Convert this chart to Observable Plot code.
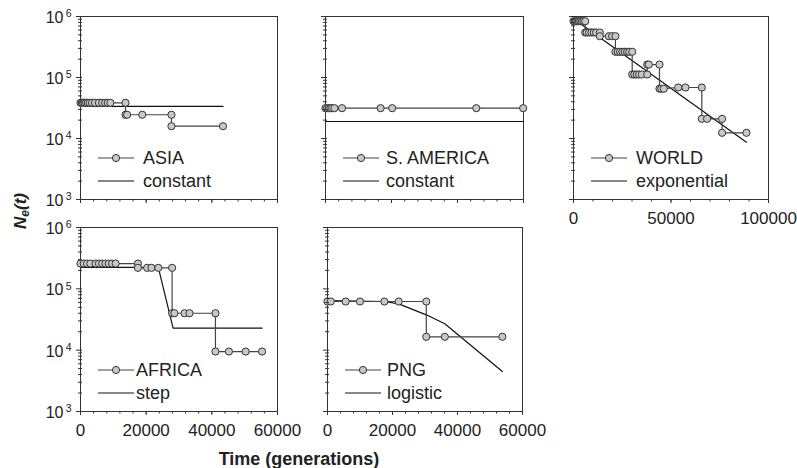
<!DOCTYPE html>
<html>
<head>
<meta charset="utf-8">
<script src="https://cdn.jsdelivr.net/npm/d3@7"></script>
<script src="https://cdn.jsdelivr.net/npm/@observablehq/plot@0.6"></script>
<style>
  html, body { margin: 0; padding: 0; background: #fff; overflow: hidden; }
  #chart { position: relative; width: 797px; height: 468px; background: #fff;
           font-family: "Liberation Sans", Arial, Helvetica, sans-serif; color: #222; }
  #chart svg { position: absolute; overflow: visible; }
  .ytitle { position: absolute; width: 80px; height: 22px; line-height: 22px; text-align: center;
            font-size: 17px; font-weight: bold; font-style: italic; transform: rotate(-90deg); }
  .ytitle sub { font-size: 12px; vertical-align: -3px; }
  .xtitle { position: absolute; width: 240px; text-align: center; font-size: 18px;
            font-weight: bold; line-height: 20px; }
</style>
</head>
<body>
<div id="chart"></div>
<script>
// ---------------- data ----------------
const asiaTime = [0, 400, 800, 1200, 1700, 2200, 2800, 3500, 4400, 5600, 6600, 7500, 8300, 9100, 13700,
                  13700, 14200, 18800, 27700, 27700, 43400];
const asiaNe = [38500, 38500, 38500, 38500, 38500, 38500, 38500, 38500, 38500, 38500, 38500, 38500, 38500, 38500, 38500,
                24500, 24500, 24500, 24500, 15900, 15900];
const asiaModelTime = [0, 43400];
const asiaModelNe = [33500, 33500];

const samTime = [0, 500, 1000, 1500, 2000, 2700, 5000, 16700, 20200, 45700, 59900];
const samNe = [31400, 31400, 31400, 31400, 31400, 31400, 31400, 31400, 31400, 31400, 31400];
const samModelTime = [0, 60000];
const samModelNe = [19000, 19000];

const worldTime = [0, 700, 1400, 2100, 2800, 3500, 4300, 5100, 6000,
                   6000, 6800, 8000, 9200, 10400, 11600, 13500,
                   13500, 18100, 19800, 21500,
                   21500, 22700, 23900, 25100, 26300, 27500, 28600, 30100,
                   30100, 31200, 32400, 33600, 35000, 37800,
                   37800, 38600, 44100,
                   44100, 45000, 46300,
                   53700, 57400, 65800,
                   65800, 68500, 76200,
                   76200, 88700];
const worldNe = [837000, 837000, 837000, 837000, 837000, 837000, 837000, 837000, 837000,
                 547000, 547000, 547000, 547000, 547000, 547000, 547000,
                 475000, 475000, 475000, 475000,
                 264000, 264000, 264000, 264000, 264000, 264000, 264000, 264000,
                 112000, 112000, 112000, 112000, 112000, 112000,
                 163000, 163000, 163000,
                 65500, 65500, 65500,
                 68500, 68500, 68500,
                 21000, 21000, 21000,
                 12400, 12400];
const worldModelTime = [0, 88700];
const worldModelNe = [916000, 8700];

const africaTime = [0, 1000, 2000, 3000, 4600, 5600, 6600, 7600, 8600, 9600, 10700, 17500,
                    17500, 20300, 21600, 23700, 27900,
                    27900, 28600, 31700, 33200, 41100,
                    41100, 45200, 50300, 55300];
const africaNe = [258000, 258000, 258000, 258000, 258000, 258000, 258000, 258000, 258000, 258000, 258000, 258000,
                  220000, 220000, 220000, 220000, 220000,
                  40000, 40000, 40000, 40000, 40000,
                  9500, 9500, 9500, 9500];
const africaModelTime = [0, 23700, 28200, 55300];
const africaModelNe = [223000, 223000, 22800, 22800];

const pngTime = [0, 1000, 5600, 10000, 17500, 21900, 30400,
                 30400, 36100, 53800];
const pngNe = [62100, 62100, 62100, 62100, 62100, 62100, 62100,
               16500, 16500, 16500];
const pngModelTime = [0, 17500, 21900, 30400, 36100, 53800];
const pngModelNe = [64400, 62100, 56900, 37700, 26900, 4480];

const seriesLabels = ["ASIA", "S. AMERICA", "WORLD", "AFRICA", "PNG"];
const modelLabels = ["constant", "constant", "exponential", "step", "logistic"];

const yMajorTicks = [1e3, 1e4, 1e5, 1e6];
const xMajor60 = [0, 20000, 40000, 60000];
const xMajor100 = [0, 50000, 100000];
const xTitle = "Time (generations)";

// ---------------- helpers ----------------
const FONT = '"Liberation Sans", Arial, Helvetica, sans-serif';
const zip = (t, n) => t.map((d, i) => ({t: d, ne: n[i]}));
const yMinorTicks = [];
for (const dec of [1e3, 1e4, 1e5]) for (let k = 2; k <= 9; k++) yMinorTicks.push(k * dec);
const range = (a, b, s) => d3.range(a, b + s / 2, s);

function legendMark(dataLabel, modelLabel, textOffset) {
  return (index, scales, values, dims) => {
    const left = dims.marginLeft, bottom = dims.height - dims.marginBottom;
    const y1 = bottom - 41, y2 = bottom - 18;
    const g = d3.create("svg:g").attr("font-family", FONT).attr("font-size", 18)
      .attr("fill", "#222").attr("text-anchor", "start");
    g.append("line").attr("x1", left + 18).attr("x2", left + 54).attr("y1", y1).attr("y2", y1)
      .attr("stroke", "#444").attr("stroke-width", 1.2);
    g.append("circle").attr("cx", left + 36).attr("cy", y1).attr("r", 3.6)
      .attr("fill", "#c8c8c8").attr("stroke", "#333").attr("stroke-width", 1);
    g.append("text").attr("x", left + textOffset).attr("y", y1).attr("dy", "0.35em").text(dataLabel);
    g.append("line").attr("x1", left + 18).attr("x2", left + 54).attr("y1", y2).attr("y2", y2)
      .attr("stroke", "#111").attr("stroke-width", 1.2);
    g.append("text").attr("x", left + textOffset).attr("y", y2).attr("dy", "0.35em").text(modelLabel);
    return g.node();
  };
}

function panel(cfg) {
  const {data, model, frame, xDomain, xMajor, xMinorStep, xLabels, yLabels, legend, mR = 20} = cfg;
  const mL = yLabels ? 62 : 12, mT = 10, mB = 32;
  const width = mL + (frame.r - frame.l) + mR;
  const height = mT + (frame.b - frame.t) + mB;
  const marks = [
    Plot.frame({stroke: "#333", strokeWidth: 1}),
    Plot.line(model, {x: "t", y: "ne", stroke: "#111", strokeWidth: 1.2}),
    Plot.line(data, {x: "t", y: "ne", stroke: "#444", strokeWidth: 1.2}),
    Plot.dot(data, {x: "t", y: "ne", r: 3.6, fill: "#c8c8c8", stroke: "#333", strokeWidth: 1}),
    Plot.axisX(xMajor, {tickSize: 4, text: null, label: null, stroke: "#333"}),
    Plot.axisX(range(xDomain[0], xDomain[1], xMinorStep), {tickSize: 2.5, text: null, label: null, stroke: "#333"}),
    Plot.axisY(yMajorTicks, {tickSize: 6, dx: 2, text: null, label: null, stroke: "#333"}),
    Plot.axisY(yMinorTicks, {tickSize: 4, dx: 2, text: null, label: null, stroke: "#333"}),
    legendMark(legend[0], legend[1], legend[2])
  ];
  if (xLabels) {
    marks.push(Plot.axisX(xMajor, {tickSize: 0, tickPadding: 12, fontSize: 17, fill: "#222", label: null,
                                   tickFormat: d => String(d)}));
  }
  if (yLabels) {
    marks.push(Plot.axisY(yMajorTicks, {tickSize: 0, tickPadding: 17, fontSize: 16, dy: 1.5, fill: "#222",
                                        label: null, tickFormat: () => "10"}));
    marks.push(Plot.axisY(yMajorTicks, {tickSize: 0, tickPadding: 9, fontSize: 10.5, dy: -2.5, fill: "#222",
                                        label: null, tickFormat: d => String(Math.round(Math.log10(d)))}));
  }
  const svg = Plot.plot({
    width, height, marginLeft: mL, marginRight: mR, marginTop: mT, marginBottom: mB,
    style: {fontFamily: FONT, background: "transparent", color: "#222"},
    x: {domain: xDomain, label: null},
    y: {type: "log", domain: [1e3, 1e6], label: null},
    marks
  });
  svg.style.left = (frame.l - mL) + "px";
  svg.style.top = (frame.t - mT) + "px";
  document.getElementById("chart").appendChild(svg);
}

panel({data: zip(asiaTime, asiaNe), model: zip(asiaModelTime, asiaModelNe),
       frame: {l: 80, r: 277, t: 16, b: 199}, xDomain: [0, 60000], xMajor: xMajor60, xMinorStep: 4000,
       xLabels: false, yLabels: true, legend: [seriesLabels[0], modelLabels[0], 63]});
panel({data: zip(samTime, samNe), model: zip(samModelTime, samModelNe),
       frame: {l: 325, r: 523, t: 16, b: 199}, xDomain: [0, 60000], xMajor: xMajor60, xMinorStep: 4000,
       xLabels: false, yLabels: false, legend: [seriesLabels[1], modelLabels[1], 61]});
panel({data: zip(worldTime, worldNe), model: zip(worldModelTime, worldModelNe),
       frame: {l: 573, r: 768, t: 16, b: 199}, xDomain: [0, 100000], xMajor: xMajor100, xMinorStep: 10000,
       xLabels: true, yLabels: false, legend: [seriesLabels[2], modelLabels[2], 63], mR: 29});
panel({data: zip(africaTime, africaNe), model: zip(africaModelTime, africaModelNe),
       frame: {l: 80, r: 277, t: 227, b: 411}, xDomain: [0, 60000], xMajor: xMajor60, xMinorStep: 4000,
       xLabels: true, yLabels: true, legend: [seriesLabels[3], modelLabels[3], 56]});
panel({data: zip(pngTime, pngNe), model: zip(pngModelTime, pngModelNe),
       frame: {l: 327, r: 522, t: 227, b: 411}, xDomain: [0, 60000], xMajor: xMajor60, xMinorStep: 4000,
       xLabels: true, yLabels: false, legend: [seriesLabels[4], modelLabels[4], 60]});

// axis titles
const chart = document.getElementById("chart");
const yt = document.createElement("div");
yt.className = "ytitle";
yt.style.left = (21 - 40) + "px";
yt.style.top = (211 - 11) + "px";
yt.innerHTML = "N<sub>e</sub>(t)";
chart.appendChild(yt);
const xt = document.createElement("div");
xt.className = "xtitle";
xt.style.left = (299 - 120) + "px";
xt.style.top = "449px";
xt.textContent = xTitle;
chart.appendChild(xt);
</script>
</body>
</html>
